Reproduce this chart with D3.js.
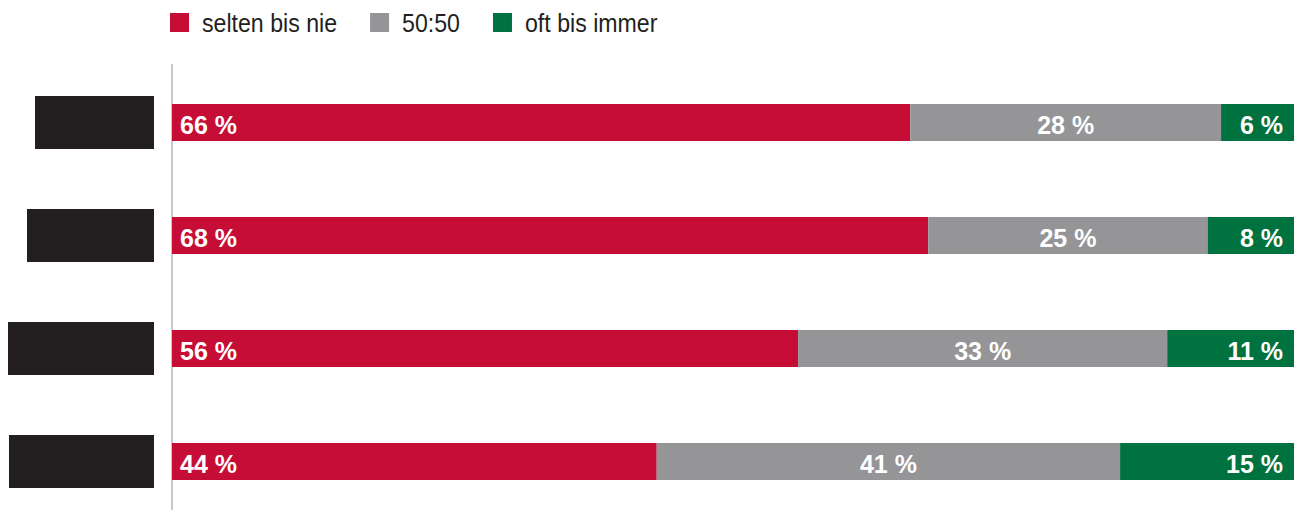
<!DOCTYPE html>
<meta charset="utf-8">
<script src="https://d3js.org/d3.v7.min.js"></script>
<style>
    body { margin: 0; background: #fff; }
    .legend-label {
        font-family: 'Liberation Sans', Arial, sans-serif;
        font-size: 26px;
        fill: #231f20;
    }
    .bar-label {
        font-family: 'Liberation Sans', Arial, sans-serif;
        font-weight: bold;
        font-size: 25px;
        fill: #fff;
    }
</style>
<div id="chart"></div>
<script>
    // categories (the row labels are blacked out in the source)
    const categories = ["A", "B", "C", "D"];
    const labelBoxWidths = [119, 127, 146, 145];

    const series = ["selten bis nie", "50:50", "oft bis immer"];
    // shares
    const selten = [65.8, 67.4, 55.8, 43.2];
    const mittel = [27.7, 24.9, 32.9, 41.3];
    const oft = [6.5, 7.7, 11.3, 15.5];
    // printed labels
    const seltenLabels = ["66 %", "68 %", "56 %", "44 %"];
    const mittelLabels = ["28 %", "25 %", "33 %", "41 %"];
    const oftLabels = ["6 %", "8 %", "11 %", "15 %"];

    const colors = ["#c50d35", "#959598", "#00723f"];

    const width = 1301, height = 510;
    const squeeze = 0.89; // the legend font is a condensed face

    let svg = d3.select("#chart")
        .append("svg")
        .attr("width", width)
        .attr("height", height);

    let x = d3.scaleLinear()
        .domain([0, 100])
        .range([172, 1294]);

    let y = d3.scaleBand()
        .domain(categories)
        .range([104, 480])
        .paddingInner(1 - 37 / 113)
        .paddingOuter(0);

    let color = d3.scaleOrdinal().domain(series).range(colors);

    // build stacked rows
    let rows = categories.map(function (c, i) {
        return {cat: c, selten: selten[i], mittel: mittel[i], oft: oft[i],
            labels: [seltenLabels[i], mittelLabels[i], oftLabels[i]]};
    });
    let stack = d3.stack().keys(["selten", "mittel", "oft"])(rows);

    // vertical axis line
    svg.append("line")
        .attr("x1", x(0)).attr("x2", x(0))
        .attr("y1", 64).attr("y2", height)
        .attr("stroke", "#b5b5b5")
        .attr("stroke-width", 1.5);

    // redacted row labels
    svg.selectAll(".label-box")
        .data(categories)
        .enter()
        .append("rect")
        .attr("class", "label-box")
        .attr("x", function (d, i) { return 154 - labelBoxWidths[i]; })
        .attr("y", function (d) { return y(d) + y.bandwidth() / 2 - 26.5; })
        .attr("width", function (d, i) { return labelBoxWidths[i]; })
        .attr("height", 53)
        .attr("fill", "#231f20");

    let layer = svg.selectAll(".layer")
        .data(stack)
        .enter()
        .append("g")
        .attr("fill", function (d, i) { return colors[i]; });

    layer.selectAll("rect")
        .data(function (d) { return d; })
        .enter()
        .append("rect")
        .attr("x", function (d) { return x(d[0]); })
        .attr("y", function (d) { return y(d.data.cat); })
        .attr("width", function (d) { return x(d[1]) - x(d[0]); })
        .attr("height", y.bandwidth());

    layer.each(function (s, k) {
        d3.select(this).selectAll("text")
            .data(s)
            .enter()
            .append("text")
            .attr("class", "bar-label")
            .attr("x", function (d) {
                if (k === 0) return x(d[0]) + 8;
                if (k === 1) return (x(d[0]) + x(d[1])) / 2;
                return x(d[1]) - 11;
            })
            .attr("y", function (d) { return y(d.data.cat) + 30; })
            .attr("text-anchor", k === 0 ? "start" : (k === 1 ? "middle" : "end"))
            .text(function (d) { return d.data.labels[k]; });
    });

    // legend
    let legend = svg.append("g");
    let lx = 170;
    series.forEach(function (s) {
        legend.append("rect")
            .attr("x", lx).attr("y", 13)
            .attr("width", 19).attr("height", 19)
            .attr("fill", color(s));
        let t = legend.append("text")
            .attr("class", "legend-label")
            .attr("transform", "translate(" + (lx + 32) + ",32) scale(" + squeeze + ",1)")
            .text(s);
        lx = lx + 32 + t.node().getComputedTextLength() * squeeze + 33;
    });
</script>
